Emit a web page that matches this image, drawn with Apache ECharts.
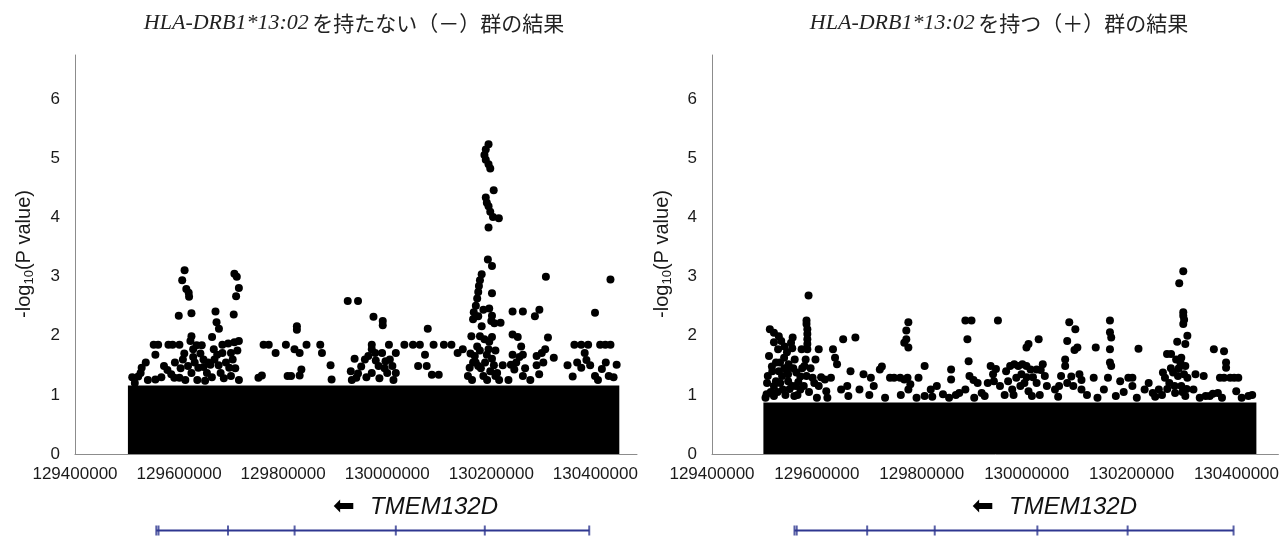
<!DOCTYPE html>
<html>
<head>
<meta charset="utf-8">
<title>TMEM132D</title>
<script src="https://cdn.jsdelivr.net/npm/echarts@6.0.0/dist/echarts.min.js"></script>
<style>
html, body { margin: 0; padding: 0; background: #fff; }
#chart { width: 1282px; height: 539px; }
</style>
</head>
<body>
<div id="chart"></div>
<script>
// 軸
const xTicks = [129400000, 129600000, 129800000, 130000000, 130200000, 130400000]
const yTicks = [0, 1, 2, 3, 4, 5, 6]
const allele = 'HLA-DRB1*13:02'
const titleTails = ['を持たない（－）群の結果', 'を持つ（＋）群の結果']

// 遺伝子
const geneName = 'TMEM132D'
const geneSpan = [129556270, 130388211]
const exonMarks = [129556270, 129560500, 129694000, 129822000, 130016500, 130187500, 130388211]

// 点が重なって塗りつぶしになっている部分の上端
const coreNeg = [[129501700, 1.16], [130446000, 1.16]]
const corePos = [[129498000, 0.87], [130438000, 0.87]]

// （－）群：上に散らばっている点
const snpNeg = [
  [130194700, 5.24], [130189400, 5.15], [130186800, 5.06], [130189400, 4.98], [130194700, 4.90], [130198000, 4.83],
  [130204600, 4.46], [130189400, 4.34], [130191400, 4.25], [130194700, 4.19], [130198000, 4.10], [130203300, 4.01],
  [130214500, 3.99], [130194700, 3.83], [130193400, 3.29], [130201300, 3.18], [130181500, 3.04], [130178200, 2.94],
  [130176200, 2.84], [130174900, 2.74], [130172900, 2.63], [130201300, 2.72], [130170300, 2.51], [130166300, 2.40],
  [130174900, 2.33], [130184800, 2.44], [130196000, 2.46], [130201300, 2.34], [130200000, 2.25], [130205900, 2.21],
  [130217800, 2.22], [130181500, 2.16], [130165000, 2.28], [130178200, 1.99], [130201300, 1.98], [130186800, 1.94],
  [130161700, 1.99], [130172900, 1.82], [130194700, 1.77], [130168300, 1.66], [130191400, 1.68], [130201300, 1.61],
  [130158400, 1.46], [130165000, 1.55], [130174900, 1.49], [130184800, 1.32], [130211200, 1.37], [130155100, 1.32],
  [130160000, 1.70], [130163000, 1.25], [130170000, 1.55], [130178000, 1.75], [130180000, 1.45], [130188000, 1.55],
  [130192000, 1.25], [130196000, 1.90], [130205000, 1.50], [130208000, 1.75], [130215000, 1.25], [130222000, 1.50],
  [129610600, 3.11], [129606000, 2.94], [129613900, 2.79], [129618500, 2.73], [129619200, 2.66], [129599400, 2.34],
  [129623800, 2.38], [129623800, 1.99], [129621800, 1.91],
  [129551200, 1.85], [129559800, 1.85], [129579600, 1.85], [129587500, 1.85], [129600700, 1.85], [129633700, 1.84],
  [129643600, 1.84], [129683200, 1.85], [129694400, 1.87], [129706300, 1.89], [129714900, 1.91], [129762400, 1.85],
  [129772300, 1.85], [129805300, 1.85], [129844900, 1.85], [129871300, 1.85], [129970300, 1.85], [130003300, 1.85],
  [130033000, 1.85], [130049500, 1.85], [130062700, 1.85], [130089100, 1.85], [130108900, 1.85], [130123400, 1.85],
  [130359700, 1.85], [130372900, 1.85], [130386100, 1.85], [130409200, 1.85], [130419100, 1.85], [130429000, 1.85],
  [129670000, 2.41], [129672000, 2.23], [129676600, 2.12], [129663400, 1.98], [129706300, 3.05], [129710900, 3.00],
  [129714900, 2.81], [129709600, 2.67], [129705000, 2.36],
  [129554500, 1.68], [129528100, 1.46], [129526100, 1.37], [129571000, 1.49], [129577600, 1.42], [129600700, 1.29],
  [129514900, 1.20], [129521500, 1.31], [129627100, 1.77], [129627100, 1.64], [129646900, 1.60], [129646900, 1.47],
  [129653500, 1.37], [129666700, 1.77], [129673300, 1.68], [129683200, 1.71], [129699700, 1.71], [129703000, 1.60],
  [129696400, 1.46], [129699700, 1.32], [129617200, 1.49], [129623800, 1.37], [129637000, 1.46], [129660100, 1.51],
  [129679900, 1.37], [129607300, 1.60], [129590800, 1.29], [129554500, 1.26],
  [129603000, 1.45], [129610000, 1.70], [129612000, 1.25], [129630000, 1.55], [129635000, 1.25], [129641000, 1.70],
  [129650000, 1.24], [129656000, 1.55], [129663000, 1.30], [129668000, 1.60], [129676000, 1.50], [129686000, 1.28],
  [129690000, 1.55], [129708000, 1.45], [129712000, 1.75], [129715000, 1.25], [129592000, 1.55], [129585000, 1.35],
  [129566000, 1.30], [129540000, 1.25], [129536000, 1.55], [129510000, 1.30],
  [129785500, 1.71], [129821800, 1.77], [129826400, 2.10], [129826400, 2.16], [129831700, 1.71], [129874600, 1.71],
  [129891100, 1.50], [129893100, 1.26], [129835000, 1.43], [129831700, 1.33], [129808600, 1.32], [129815200, 1.32],
  [129752500, 1.29], [129759100, 1.33],
  [129924100, 2.59], [129943900, 2.59], [129973600, 2.32], [129991400, 2.25], [129991400, 2.18], [130077900, 2.12],
  [129970300, 1.77], [129976900, 1.71], [129990100, 1.71], [129957100, 1.60], [129963700, 1.66], [129937300, 1.61],
  [130016500, 1.71], [130009900, 1.49], [130016500, 1.37], [129983500, 1.49], [129996700, 1.57], [129940600, 1.29],
  [129943900, 1.36], [129970300, 1.37], [130000000, 1.37], [130072600, 1.68], [130059400, 1.49], [130075900, 1.49],
  [130085800, 1.34], [130099000, 1.34], [130145200, 1.77], [130135300, 1.71],
  [129950000, 1.48], [129960000, 1.30], [129978000, 1.58], [129985000, 1.28], [129995000, 1.45], [130005000, 1.60],
  [130012000, 1.25], [129930000, 1.40], [129932000, 1.25],
  [130304900, 3.00], [130429000, 2.95], [130399300, 2.39], [130240900, 2.41], [130260700, 2.41], [130292400, 2.44],
  [130283800, 2.33], [130240900, 2.02], [130250800, 1.98], [130308900, 1.97], [130303600, 1.77], [130257400, 1.82],
  [130254100, 1.64], [130240900, 1.68], [130260700, 1.68], [130287100, 1.66], [130297000, 1.71], [130320100, 1.63],
  [130346500, 1.50], [130440900, 1.51], [130379500, 1.71], [130382800, 1.59], [130372900, 1.46], [130412500, 1.44],
  [130356400, 1.31], [130399300, 1.32], [130425700, 1.32], [130287100, 1.50], [130237600, 1.51], [130244200, 1.43],
  [130260700, 1.32], [130207900, 1.32], [130198000, 1.40],
  [130233000, 1.25], [130248000, 1.55], [130265000, 1.45], [130275000, 1.25], [130292000, 1.35], [130300000, 1.55],
  [130365000, 1.55], [130390000, 1.50], [130405000, 1.25], [130420000, 1.55], [130435000, 1.30]
]

// （＋）群：上に散らばっている点
const snpPos = [
  [130298600, 3.09], [130290900, 2.89], [130298600, 2.40], [130298600, 2.34], [130300200, 2.27], [130298600, 2.20],
  [130306400, 2.00], [130302500, 1.86], [130287000, 1.90], [130275300, 1.69], [130267600, 1.69], [130294800, 1.63],
  [130293200, 1.55], [130302500, 1.49], [130279200, 1.38], [130288500, 1.32], [130259800, 1.38], [130263700, 1.29],
  [130306400, 1.29], [130272000, 1.20], [130294800, 1.15], [130283000, 1.03], [130302500, 0.98], [130252000, 1.09],
  [130258000, 1.00], [130268000, 1.10], [130275000, 1.45], [130282000, 1.15], [130290000, 1.45], [130297000, 1.05],
  [130305000, 1.10], [130300000, 1.35], [130285000, 1.60],
  [129510300, 2.11], [129518100, 2.05], [129527400, 1.99], [129518100, 1.89], [129532000, 1.91], [129538300, 1.82],
  [129526000, 1.77], [129542900, 1.72], [129553800, 1.97], [129550700, 1.88], [129537500, 1.63], [129553000, 1.79],
  [129557700, 1.60], [129546000, 1.52], [129529700, 1.55], [129514200, 1.48], [129506400, 1.32], [129518100, 1.15],
  [129521900, 1.23], [129533600, 1.32], [129560800, 1.38], [129568500, 1.31], [129564600, 1.22], [129553000, 1.15],
  [129568500, 1.09], [129518100, 0.98], [129541400, 1.43], [129527400, 1.40], [129508700, 1.66], [129545200, 1.23],
  [129535100, 1.09], [129504100, 1.01], [129556900, 0.98],
  [129502000, 0.95], [129505000, 1.20], [129512000, 1.05], [129515000, 1.40], [129522000, 1.55], [129525000, 1.05],
  [129530000, 1.20], [129538000, 1.45], [129540000, 1.00], [129545000, 1.35], [129548000, 1.10], [129555000, 1.45],
  [129560000, 1.15], [129563000, 1.00], [129572000, 1.45], [129575000, 1.15], [129585000, 1.05], [129588000, 1.45],
  [129595000, 1.20], [129600000, 0.95], [129608000, 1.30],
  [129580200, 2.26], [129580200, 2.20], [129581800, 2.11], [129581800, 2.03], [129581800, 1.94], [129581800, 1.86],
  [129581800, 1.77], [129570900, 1.77], [129578600, 1.60], [129576300, 1.49], [129580200, 1.32], [129584100, 2.68],
  [129597300, 1.60], [129603500, 1.77], [129615200, 1.26], [129626800, 1.29], [129591800, 1.29], [129603500, 1.15],
  [129617900, 1.06], [129630700, 1.77], [129634600, 1.63], [129638400, 1.52], [129650100, 1.94], [129664100, 1.40],
  [129673400, 1.97], [129688900, 1.35], [129702900, 1.29], [129720000, 1.43], [129723900, 1.48], [129657900, 1.15],
  [129646200, 1.09], [129681200, 1.09], [129708400, 1.15],
  [129739400, 1.29], [129747200, 1.29], [129758800, 1.29], [129766600, 1.26], [129770500, 2.09], [129774400, 2.23],
  [129770500, 1.94], [129766600, 1.88], [129774400, 1.80], [129772800, 1.29], [129774400, 1.09], [129778200, 1.18],
  [129793800, 1.29], [129805400, 1.49], [129817100, 1.09], [129805400, 0.98], [129840400, 1.01], [129828700, 1.15],
  [129852000, 0.95], [129855900, 1.43], [129855900, 1.26], [129883100, 2.26], [129894800, 2.26], [129887000, 1.94],
  [129889300, 1.57], [129890900, 1.32], [129898600, 1.25], [129906500, 1.20], [129883100, 1.09], [129871500, 1.03],
  [129914200, 1.03], [129925800, 1.20], [129945200, 2.26], [129941400, 1.44], [129935900, 1.35], [129931300, 1.49],
  [129937500, 1.23], [129949100, 1.15],
  [129960800, 1.40], [129968500, 1.49], [129976300, 1.52], [129984100, 1.49], [129991800, 1.52], [129999600, 1.49],
  [130007400, 1.43], [129964600, 1.23], [129980200, 1.29], [129995700, 1.20], [129972400, 1.09], [129988000, 1.15],
  [130003500, 1.06], [130019000, 1.20], [129999600, 1.80], [130003500, 1.86], [130022900, 1.94], [130030700, 1.52],
  [130019000, 1.43], [130026800, 1.42], [130034600, 1.32], [130038500, 1.15], [130054000, 1.09],
  [129958000, 1.00], [129975000, 1.00], [129990000, 1.35], [130000000, 1.30], [130012000, 1.30], [130025000, 1.00],
  [130010000, 0.98],
  [130081200, 2.23], [130092800, 2.11], [130077300, 1.91], [130073400, 1.60], [130073400, 1.49], [130096700, 1.80],
  [130091200, 1.76], [130100600, 1.35], [130065600, 1.32], [130085100, 1.31], [130104500, 1.25], [130104500, 1.09],
  [130077300, 1.20], [130061800, 1.15], [130088900, 1.15], [130131700, 1.80], [130127800, 1.29], [130147200, 1.09],
  [130155000, 1.29], [130158800, 2.26], [130158800, 2.06], [130161200, 1.97], [130158800, 1.77], [130161200, 1.49],
  [130158800, 1.55], [130178300, 1.23], [130193800, 1.29], [130201600, 1.29], [130213200, 1.78], [130201600, 1.15],
  [130224900, 1.09], [130232600, 1.20], [130240400, 1.03],
  [130321900, 1.35], [130337500, 1.32], [130356900, 1.77], [130376300, 1.74], [130380200, 1.55], [130380200, 1.46],
  [130388000, 1.29], [130395700, 1.29], [130403500, 1.29], [130376300, 1.29], [130368500, 1.29], [130399600, 1.06],
  [130422900, 0.98], [130364600, 1.03], [130341300, 0.98], [130349100, 0.98], [130372400, 0.95], [130318000, 1.09],
  [129620000, 0.95], [129660000, 0.98], [129700000, 1.00], [129730000, 0.95], [129760000, 1.00], [129790000, 0.95],
  [129820000, 0.97], [129865000, 1.00], [129900000, 0.95], [129920000, 0.98], [130060000, 0.97], [130115000, 1.00],
  [130135000, 0.95], [130170000, 0.98], [130185000, 1.05], [130210000, 0.95], [130245000, 0.97], [130330000, 0.95],
  [130355000, 1.02], [130410000, 0.95], [130430000, 1.00]
]

const chart = echarts.init(document.getElementById('chart'))

const gray = '#8c8c8c'
const navy = '#2e3790'
const labelFont = { fontFamily: 'Liberation Sans', fontSize: 17, color: '#1a1a1a' }
const panelLeft = [75, 712]
const panelWidth = [562, 570]

const xAxes = []
const yAxes = []
const grids = []
const series = []
for (let i = 0; i < 2; i++) {
  grids.push({ left: panelLeft[i], top: 55, width: panelWidth[i], height: 399 })
  xAxes.push({
    type: 'value', gridIndex: i, min: 129400000, max: 130480000,
    axisLine: { lineStyle: { color: gray, width: 1 } },
    axisTick: { show: false },
    splitLine: { show: false },
    axisLabel: Object.assign({ customValues: xTicks, margin: 12, formatter: v => String(v) }, labelFont)
  })
  yAxes.push({
    type: 'value', gridIndex: i, min: 0, max: 6.75,
    axisLine: { show: true, lineStyle: { color: gray, width: 1 } },
    axisTick: { show: false },
    splitLine: { show: false },
    axisLabel: Object.assign({ customValues: yTicks, margin: 15 }, labelFont)
  })
}
// 遺伝子の図
for (let i = 0; i < 2; i++) {
  grids.push({ left: panelLeft[i], top: 522, width: panelWidth[i], height: 20 })
  xAxes.push({ type: 'value', gridIndex: i + 2, min: 129400000, max: 130480000, show: false })
  yAxes.push({ type: 'value', gridIndex: i + 2, min: -1, max: 1, show: false })
}

const cores = [coreNeg, corePos]
const snps = [snpNeg, snpPos]
for (let i = 0; i < 2; i++) {
  series.push({
    type: 'line', xAxisIndex: i, yAxisIndex: i, data: cores[i],
    symbol: 'none', lineStyle: { width: 0 },
    areaStyle: { color: '#000', opacity: 1 }, silent: true
  })
  series.push({
    type: 'scatter', xAxisIndex: i, yAxisIndex: i, data: snps[i],
    symbolSize: 8, itemStyle: { color: '#000', opacity: 1 }
  })
  series.push({
    type: 'line', xAxisIndex: i + 2, yAxisIndex: i + 2,
    data: geneSpan.map(x => [x, 0]),
    symbol: 'none', lineStyle: { color: navy, width: 2 }
  })
  series.push({
    type: 'scatter', xAxisIndex: i + 2, yAxisIndex: i + 2,
    data: exonMarks.map(x => [x, 0]),
    symbol: 'rect', symbolSize: [2, 10], itemStyle: { color: navy }
  })
}

const graphic = []
const titleX = [354, 999]
const nameX = [24, 662]
const geneX = [344, 983]
for (let i = 0; i < 2; i++) {
  graphic.push({
    type: 'text', x: titleX[i], y: 23,
    style: {
      text: '{i|' + allele + '} {j|' + titleTails[i] + '}',
      align: 'center', verticalAlign: 'middle', fill: '#222',
      rich: {
        i: { fontFamily: 'Liberation Serif', fontStyle: 'italic', fontSize: 22, fill: '#222' },
        j: { fontFamily: 'Noto Sans CJK JP', fontSize: 21, fill: '#222' }
      }
    }
  })
  graphic.push({
    type: 'text', x: nameX[i], y: 254, rotation: Math.PI / 2,
    style: {
      text: '{b|-log}{s|10}{b|(P value)}',
      align: 'center', verticalAlign: 'middle', fill: '#1a1a1a',
      rich: {
        b: { fontFamily: 'Liberation Sans', fontSize: 20, lineHeight: 24, fill: '#1a1a1a' },
        s: { fontFamily: 'Liberation Sans', fontSize: 13, lineHeight: 24, verticalAlign: 'bottom', fill: '#1a1a1a' }
      }
    }
  })
  graphic.push({
    type: 'text', x: geneX[i], y: 507,
    style: { text: '⬅', font: '26px "DejaVu Sans"', fill: '#000', align: 'center', verticalAlign: 'middle' }
  })
  graphic.push({
    type: 'text', x: geneX[i] + 26, y: 507,
    style: { text: geneName, font: 'italic 24px "Liberation Sans"', fill: '#111', align: 'left', verticalAlign: 'middle' }
  })
}

chart.setOption({
  animation: false,
  grid: grids,
  xAxis: xAxes,
  yAxis: yAxes,
  series: series,
  graphic: graphic
})
</script>
</body>
</html>
